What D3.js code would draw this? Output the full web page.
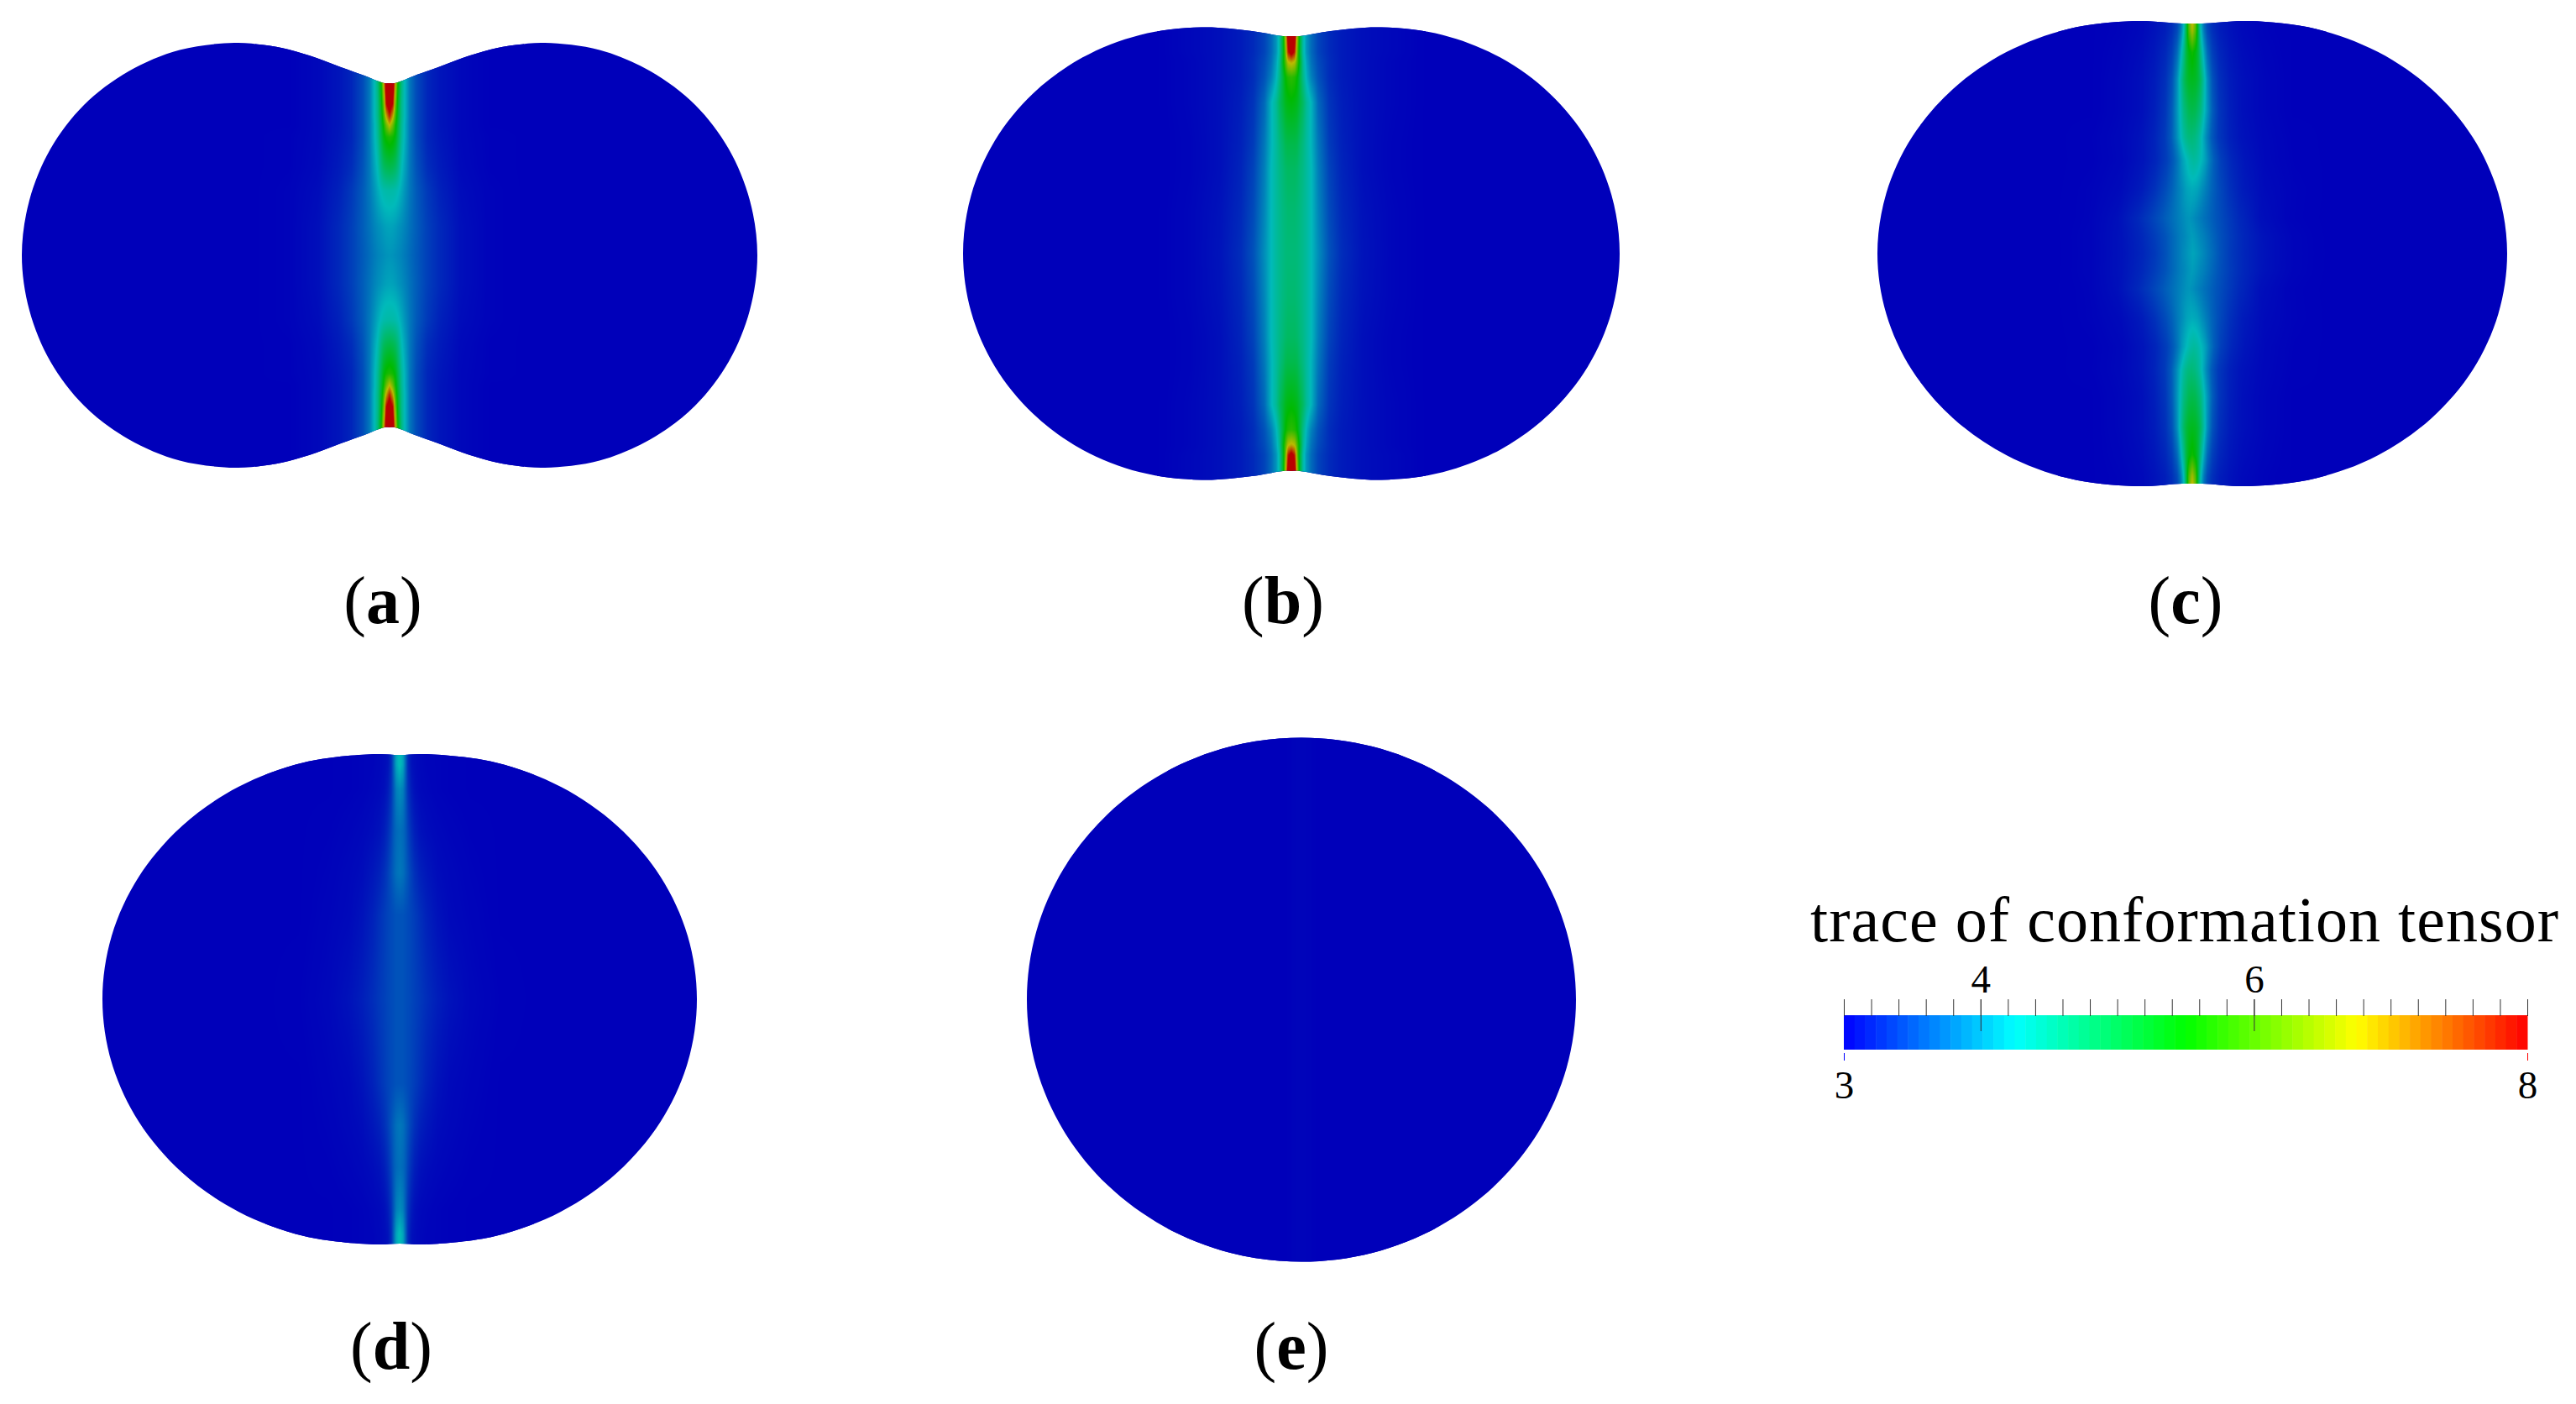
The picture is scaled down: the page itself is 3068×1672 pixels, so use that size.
<!DOCTYPE html>
<meta charset="utf-8">
<style>
html, body { margin: 0; background: #fff; }
svg { display: block; }
text { font-family: "Liberation Serif", serif; fill: #000; }
.tick line { stroke: #333; }
</style>
<body>
<svg width="3068" height="1672"></svg>
<script src="https://d3js.org/d3.v7.min.js"></script>
<script>

// one label per droplet, centre of the droplet and of its label (reference pixels)
var panelNames = ["a", "b", "c", "d", "e"];
var panelCenters = [[464, 304], [1538, 302], [2611, 302], [476, 1190], [1550, 1190.5]];
var labelPositions = [[456, 742], [1528, 742], [2603, 742], [466, 1630], [1538, 1630]];

// upper right quarter of each outline, [dx, dy] from the droplet centre
var outlineA = [[0,205],[6,205],[14,207.5],[30,214],[58,224],[87,235],[120,245],[150,250.5],[185,253],[250,244.5],[311,219],[364,179],[404,126.5],[429,65.5],[438,0]];
var outlineB = [[0,259],[10,259],[47,265],[107,269.5],[180.5,260.3],[249,233.4],[307.8,190.6],[353,134.8],[381.3,69.8],[391,0]];
var outlineC = [[0,274],[12,274],[68,277],[147.5,267.6],[221.5,239.9],[285,195.9],[334,138.5],[364.5,71.7],[375,0]];
var outlineD = [[0,291],[30,292],[113.9,282],[192,252.9],[259,206.5],[310.6,146],[343,75.6],[354,0]];
var outlineE = [[0,312],[84.6,301.4],[163.5,270.2],[231.2,220.6],[283.2,156],[315.9,80.8],[327,0]];
var outlines = [outlineA, outlineB, outlineC, outlineD, outlineE];

// trace of the conformation tensor, read across the band at these distances from the midline
var fieldOffsets = [0, 4, 7, 10, 14, 18, 24, 32, 45, 60, 85, 120, 160];

var rowsA = [0, 34, 77, 105, 141, 155, 166, 180, 210];
var fieldA = [
  [4.0,3.98,3.95,3.92,3.88,3.82,3.72,3.6,3.42,3.27,3.1,3.02,3],
  [4.1,4.08,4.05,4.0,3.95,3.88,3.76,3.62,3.42,3.27,3.1,3.02,3],
  [4.4,4.38,4.35,4.28,4.15,4.0,3.8,3.6,3.38,3.22,3.08,3.02,3],
  [5.0,4.95,4.85,4.65,4.3,4.1,3.8,3.55,3.3,3.18,3.06,3.01,3],
  [5.7,5.6,5.4,5.0,4.5,4.2,3.8,3.5,3.25,3.15,3.05,3.01,3],
  [6.8,6.2,5.6,5.1,4.55,4.2,3.8,3.5,3.25,3.14,3.05,3,3],
  [7.8,6.9,5.9,5.2,4.6,4.25,3.8,3.5,3.25,3.14,3.05,3,3],
  [8.6,7.9,6.2,5.3,4.6,4.25,3.8,3.5,3.25,3.14,3.05,3,3],
  [8.8,8.6,7.0,5.5,4.7,4.25,3.8,3.5,3.25,3.14,3.05,3,3]
];

var rowsB = [0, 50, 100, 130, 180, 210, 228, 240, 262];
var fieldB = [
  [4.7,4.7,4.68,4.62,4.55,4.45,4.25,3.95,3.55,3.3,3.13,3.04,3],
  [4.75,4.75,4.7,4.65,4.55,4.45,4.25,3.9,3.5,3.27,3.12,3.04,3],
  [4.85,4.85,4.8,4.7,4.6,4.45,4.25,3.85,3.45,3.24,3.1,3.03,3],
  [5.0,5.0,4.95,4.8,4.65,4.45,4.2,3.8,3.4,3.22,3.1,3.03,3],
  [5.45,5.4,5.3,5.1,4.85,4.5,4.2,3.7,3.35,3.2,3.1,3.04,3],
  [5.8,5.7,5.5,5.1,4.6,4.2,3.85,3.55,3.3,3.18,3.1,3.04,3],
  [6.9,6.7,6.0,5.3,4.5,4.1,3.75,3.5,3.3,3.18,3.1,3.04,3],
  [8.4,7.8,6.2,5.2,4.4,4.0,3.7,3.45,3.28,3.18,3.1,3.05,3],
  [8.8,8.4,6.6,5.2,4.4,4.0,3.7,3.45,3.28,3.18,3.1,3.05,3]
];

var rowsC = [0, 20, 42, 77, 111, 138, 170, 207, 240, 265, 280];
var fieldC = [
  [4.1,4.05,4.0,3.95,3.88,3.8,3.7,3.55,3.38,3.25,3.12,3.03,3],
  [4.05,4.0,3.95,3.9,3.85,3.78,3.68,3.55,3.4,3.26,3.12,3.03,3],
  [4.0,3.97,3.92,3.88,3.82,3.76,3.68,3.57,3.42,3.27,3.1,3.02,3],
  [4.15,4.12,4.08,4.0,3.9,3.8,3.65,3.5,3.32,3.18,3.07,3.02,3],
  [4.45,4.4,4.3,4.2,4.05,3.85,3.62,3.42,3.25,3.14,3.05,3.01,3],
  [4.7,4.65,4.55,4.4,4.15,3.9,3.6,3.38,3.22,3.12,3.05,3.01,3],
  [5.0,4.95,4.8,4.65,4.3,4.0,3.62,3.36,3.2,3.1,3.04,3,3],
  [5.3,5.25,5.1,4.85,4.4,3.95,3.55,3.32,3.18,3.1,3.04,3,3],
  [5.6,5.4,5.1,4.6,4.1,3.7,3.42,3.26,3.15,3.08,3.03,3,3],
  [6.6,6.0,5.1,4.3,3.8,3.5,3.32,3.2,3.12,3.06,3.02,3,3],
  [7.0,6.2,5.0,4.2,3.7,3.45,3.3,3.2,3.12,3.06,3.02,3,3]
];
// the band in (c) is not straight, midline shift at each of its rows
var shiftC = [1, 0, -4, 0, 2, -1, 0, 0, 0, 0, 0];

var rowsD = [0, 100, 150, 200, 250, 280];
var fieldD = [
  [3.55,3.55,3.52,3.5,3.47,3.43,3.38,3.3,3.2,3.12,3.05,3.01,3],
  [3.55,3.55,3.52,3.49,3.45,3.4,3.32,3.22,3.12,3.06,3.03,3,3],
  [3.8,3.75,3.65,3.55,3.42,3.32,3.22,3.15,3.08,3.05,3.02,3,3],
  [3.75,3.7,3.6,3.45,3.3,3.2,3.12,3.08,3.05,3.03,3.01,3,3],
  [3.95,3.85,3.6,3.35,3.18,3.1,3.06,3.04,3.02,3.01,3,3,3],
  [4.3,4.1,3.7,3.3,3.12,3.08,3.05,3.03,3.02,3.01,3,3,3]
];

var rowsE = [0, 312];
var fieldE = [
  [3.03,3.03,3.02,3.02,3.01,3,3,3,3,3,3,3,3],
  [3.03,3.03,3.02,3.02,3.01,3,3,3,3,3,3,3,3]
];
var fieldRows = [rowsA, rowsB, rowsC, rowsD, rowsE];
var fieldValues = [fieldA, fieldB, fieldC, fieldD, fieldE];
var fieldShifts = [null, null, shiftC, null, null];

// colour bar
var barDomain = [3, 8];
var minorTicks = d3.range(0, 26).map(function(i) { return 3 + i * 0.2; });
var majorTicks = [4, 6];
var endTicks = [3, 8];
var barTitle = "trace of conformation tensor";

var svg = d3.select("svg"),
    width = +svg.attr("width"),
    height = +svg.attr("height");

var colorStops = [3, 4.25, 5.5, 6.75, 8];
var colorRange = ["#0000ff", "#00ffff", "#00ff00", "#ffff00", "#ff0000"];
var color = d3.scaleLinear().domain(colorStops).range(colorRange).clamp(true);
var shade = 0.73; // droplets are lit, so they come out darker than the bar

var line = d3.line().curve(d3.curveCatmullRomClosed.alpha(0.5));

// the whole outline is the quarter mirrored into the other three
function closedOutline(q) {
  var tr = q.slice();
  var br = q.slice(0, -1).reverse().map(function(p) { return [p[0], -p[1]]; });
  var bl = q.slice(1).map(function(p) { return [-p[0], -p[1]]; });
  var tl = q.slice(1, -1).reverse().map(function(p) { return [-p[0], p[1]]; });
  return tr.concat(br, bl, tl);
}

function fieldImage(i, w, h) {
  var canvas = document.createElement("canvas");
  canvas.width = w; canvas.height = h;
  var ctx = canvas.getContext("2d");
  var img = ctx.createImageData(w, h);
  var rowScale = d3.scaleLinear().domain(fieldRows[i]).range(fieldValues[i]).clamp(true);
  var shift = fieldShifts[i] ? d3.scaleLinear().domain(fieldRows[i]).range(fieldShifts[i]).clamp(true) : function() { return 0; };
  for (var y = 0; y < h; y++) {
    var dy = Math.abs(y + 0.5 - h / 2);
    var across = d3.scaleLinear().domain(fieldOffsets).range(rowScale(dy)).clamp(true);
    var mid = w / 2 + shift(dy);
    for (var x = 0; x < w; x++) {
      var c = d3.rgb(color(across(Math.abs(x + 0.5 - mid))));
      var k = (y * w + x) * 4;
      img.data[k] = c.r * shade;
      img.data[k + 1] = c.g * shade;
      img.data[k + 2] = c.b * shade;
      img.data[k + 3] = 255;
    }
  }
  ctx.putImageData(img, 0, 0);
  return canvas.toDataURL();
}

var defs = svg.append("defs");

var panel = svg.selectAll(".panel")
    .data(panelNames)
  .enter().append("g")
    .attr("class", "panel");

panel.each(function(name, i) {
  var g = d3.select(this),
      cx = panelCenters[i][0],
      cy = panelCenters[i][1];
  var x = d3.scaleLinear().domain([-500, 500]).range([cx - 500, cx + 500]);
  var y = d3.scaleLinear().domain([-340, 340]).range([cy + 340, cy - 340]);
  var d = line(closedOutline(outlines[i]).map(function(p) { return [x(p[0]), y(p[1])]; }));

  defs.append("clipPath").attr("id", "clip-" + name).append("path").attr("d", d);

  g.append("path")
      .attr("d", d)
      .attr("fill", "rgb(0,0,186)");

  var bw = 320, bh = 640;
  g.append("image")
      .attr("x", x(-bw / 2))
      .attr("y", y(bh / 2))
      .attr("width", bw)
      .attr("height", bh)
      .attr("clip-path", "url(#clip-" + name + ")")
      .attr("href", fieldImage(i, bw, bh));

  var label = g.append("text")
      .attr("x", labelPositions[i][0])
      .attr("y", labelPositions[i][1])
      .attr("text-anchor", "middle")
      .attr("font-size", 80);
  label.append("tspan").text("(");
  label.append("tspan").attr("font-weight", "bold").text(name);
  label.append("tspan").text(")");
});

// colour bar
var barX = d3.scaleLinear().domain(barDomain).range([2196, 3010]);
var barTop = 1209, barBottom = 1250;
var steps = d3.range(64);
var stepX = d3.scaleBand().domain(steps).range(barX.range());

var bar = svg.append("g").attr("class", "colorbar");

bar.selectAll("rect")
    .data(steps)
  .enter().append("rect")
    .attr("x", function(d) { return stepX(d); })
    .attr("y", barTop)
    .attr("width", stepX.bandwidth() + 0.5)
    .attr("height", barBottom - barTop)
    .attr("fill", function(d) { return color(3 + 5 * (d + 0.5) / 64); });

bar.append("g")
    .attr("transform", "translate(0,1210)")
    .call(d3.axisTop(barX).tickValues(minorTicks).tickSize(20).tickFormat(""))
    .call(function(g) { g.select(".domain").remove(); });

var topAxis = bar.append("g")
    .attr("transform", "translate(0,1210)")
    .call(d3.axisTop(barX).tickValues(majorTicks).tickSize(20).tickPadding(8).tickFormat(d3.format("d")));
topAxis.attr("font-family", null).attr("font-size", null);
topAxis.select(".domain").remove();
topAxis.selectAll("line").attr("y1", 18);
topAxis.selectAll("text")
    .attr("font-size", 47)
    .attr("dy", null)
    .attr("y", -28);

var bottomAxis = bar.append("g")
    .attr("transform", "translate(0,1254)")
    .call(d3.axisBottom(barX).tickValues(endTicks).tickSize(9).tickFormat(d3.format("d")));
bottomAxis.attr("font-family", null).attr("font-size", null);
bottomAxis.select(".domain").remove();
bottomAxis.selectAll("line").style("stroke", function(d) { return color(d); });
bottomAxis.selectAll("text")
    .attr("font-size", 47)
    .attr("dy", null)
    .attr("y", 54);

bar.append("text")
    .attr("x", 2156)
    .attr("y", 1121)
    .attr("font-size", 76)
    .attr("textLength", 891)
    .attr("lengthAdjust", "spacing")
    .text(barTitle);

</script>
</body>
